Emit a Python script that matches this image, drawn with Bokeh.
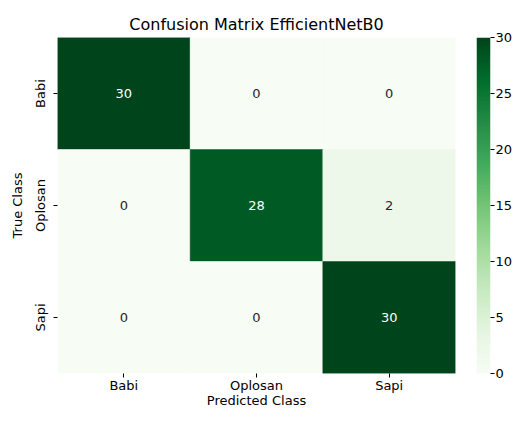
import numpy as np
from bokeh.plotting import figure
from bokeh.layouts import row
from bokeh.models import ColumnDataSource, LinearColorMapper, FixedTicker, FactorRange, Range1d
from bokeh.palettes import Greens256
from bokeh.core.properties import value
from bokeh.embed import file_html
from bokeh.resources import INLINE

classes = ["Babi", "Oplosan", "Sapi"]
matrix = [
    [30, 0, 0],
    [0, 28, 2],
    [0, 0, 30],
]
cbar_ticks = [0, 5, 10, 15, 20, 25, 30]
vmin, vmax = 0, 30
title = "Confusion Matrix EfficientNetB0"
xlabel = "Predicted Class"
ylabel = "True Class"

FONT = "DejaVu Sans"
TXT = "#000000"

xs, ys, vals, labels, tcolors = [], [], [], [], []
for i, t in enumerate(classes):
    for j, pc in enumerate(classes):
        v = matrix[i][j]
        xs.append(pc)
        ys.append(t)
        vals.append(v)
        labels.append(str(v))
        tcolors.append("#ffffff" if v > (vmax + vmin) / 2 else "#262626")
src = ColumnDataSource(dict(x=xs, y=ys, v=vals, label=labels, tc=tcolors))

def lum(h):
    h = h.lstrip("#")
    return sum(int(h[k:k + 2], 16) for k in (0, 2, 4))
pal = list(Greens256)
if lum(pal[0]) < lum(pal[-1]):
    pal = pal[::-1]
mapper = LinearColorMapper(palette=pal, low=vmin, high=vmax)

# ---- heatmap ----
p = figure(
    width=476, height=410,
    x_range=FactorRange(*classes),
    y_range=FactorRange(*classes[::-1]),
    output_backend="svg", toolbar_location=None,
    min_border_left=57, min_border_top=37, min_border_right=21, min_border_bottom=30,
)
p.rect(x="x", y="y", width=1, height=1, source=src,
       fill_color={"field": "v", "transform": mapper},
       line_color={"field": "v", "transform": mapper}, line_width=0.5)
p.text(x="x", y="y", text="label", source=src, text_align="center", text_baseline="middle",
       text_color="tc", text_font=value(FONT), text_font_size="13px")

p.title.text = title
p.title.align = "center"
p.title.text_font = FONT
p.title.text_font_size = "16px"
p.title.text_font_style = "normal"
p.title.text_color = TXT
p.title.standoff = 8

p.grid.visible = False
p.outline_line_color = None
for ax in (p.xaxis[0], p.yaxis[0]):
    ax.axis_line_color = None
    ax.major_tick_in = 0
    ax.major_tick_out = 4
    ax.major_tick_line_color = TXT
    ax.minor_tick_line_color = None
    ax.major_label_text_font = FONT
    ax.major_label_text_font_size = "13px"
    ax.major_label_text_color = TXT
    ax.axis_label_text_font = FONT
    ax.axis_label_text_font_size = "13px"
    ax.axis_label_text_font_style = "normal"
    ax.axis_label_text_color = TXT
p.xaxis.axis_label = xlabel
p.xaxis.major_label_standoff = 0
p.xaxis.axis_label_standoff = -3
p.yaxis.axis_label = ylabel
p.yaxis.major_label_orientation = "vertical"
p.yaxis.major_label_standoff = 6
p.yaxis.axis_label_standoff = 5

# ---- colorbar ----
cb = figure(
    width=39, height=410,
    x_range=Range1d(0, 1), y_range=Range1d(vmin, vmax),
    output_backend="svg", toolbar_location=None,
    x_axis_location=None, y_axis_location="right",
    min_border_left=0, min_border_top=37, min_border_right=21, min_border_bottom=37,
)
grad = np.linspace(vmin, vmax, 256).reshape(-1, 1)
cb.image(image=[grad], x=0, y=vmin, dw=1, dh=vmax - vmin, color_mapper=mapper)
cb.grid.visible = False
cb.outline_line_color = None
cb.yaxis.ticker = FixedTicker(ticks=cbar_ticks)
ya = cb.yaxis[0]
ya.axis_line_color = None
ya.major_tick_in = 0
ya.major_tick_out = 4
ya.major_tick_line_color = TXT
ya.minor_tick_line_color = None
ya.major_label_standoff = 1
ya.major_label_text_font = FONT
ya.major_label_text_font_size = "13px"
ya.major_label_text_color = TXT

layout = row(p, cb)
open("out.html", "w").write(file_html(layout, INLINE))
